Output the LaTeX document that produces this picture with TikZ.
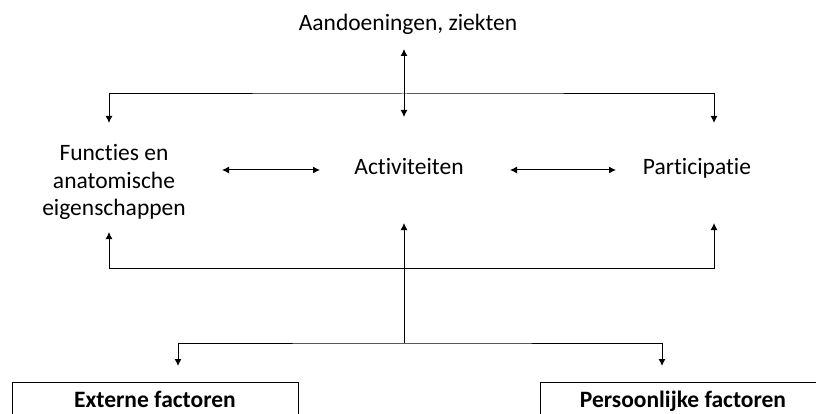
\documentclass[tikz,border=0pt]{standalone}
\usepackage{fontspec}
\setmainfont{Carlito}[Ligatures=NoCommon]
\usetikzlibrary{arrows.meta}
\newcommand{\arw}{-{Latex[length=7pt,width=7pt]}}
\newcommand{\darw}{{Latex[length=7pt,width=7pt]}-{Latex[length=7pt,width=7pt]}}

\begin{document}
\begin{tikzpicture}[x=1pt,y=-1pt,line width=1pt,
  font=\fontsize{23.5}{28}\selectfont,
  factbox/.style={draw,anchor=north,minimum width=286pt,
    inner ysep=8pt,text height=17pt,text depth=35pt,font=\fontsize{23.5}{28}\selectfont\bfseries}]
\clip (0,0) rectangle (816,414);
\node[anchor=base] (ziek) at (408,31) {Aandoeningen, ziekten};
\node[align=center,font=\fontsize{23.5}{27.5}\selectfont] (func) at (114,182) {Functies en\\anatomische\\eigenschappen};
\node[anchor=base] (act) at (409,175) {Activiteiten};
\node[anchor=base] (part) at (697,175) {Participatie};
\node[factbox] (ext) at (155,382) {Externe factoren};
\node[factbox] (pers) at (683,382) {Persoonlijke factoren};
%bovenste verbindingen
\coordinate (zTop) at (404,49);
\coordinate (zBot) at (404,117);
\coordinate (busT) at (404,94);
\coordinate (fTop) at (109,123);
\coordinate (pTop) at (714,123);
\draw[\darw] (zTop) -- (zBot);
\draw[\darw] (fTop) |- (busT) -| (pTop);
%tussen functies, activiteiten en participatie
\coordinate (fR) at (222,170);
\coordinate (aL) at (320,170);
\coordinate (aR) at (510,170);
\coordinate (pL) at (616,170);
\draw[\darw] (fR) -- (aL);
\draw[\darw] (aR) -- (pL);
%onderste verbindingen
\coordinate (fBot) at (109,232);
\coordinate (aBot) at (404,223);
\coordinate (pBot) at (714,223);
\coordinate (busB) at (404,268);
\coordinate (split) at (404,343);
\coordinate (eTop) at (178,366);
\coordinate (pfTop) at (662,366);
\draw[\darw] (fBot) -- (fBot |- busB) -- (pBot |- busB) -- (pBot);
\draw[\arw] (split) -- (aBot);
\draw[\darw] (eTop) |- (split) -| (pfTop);
\end{tikzpicture}
\end{document}
